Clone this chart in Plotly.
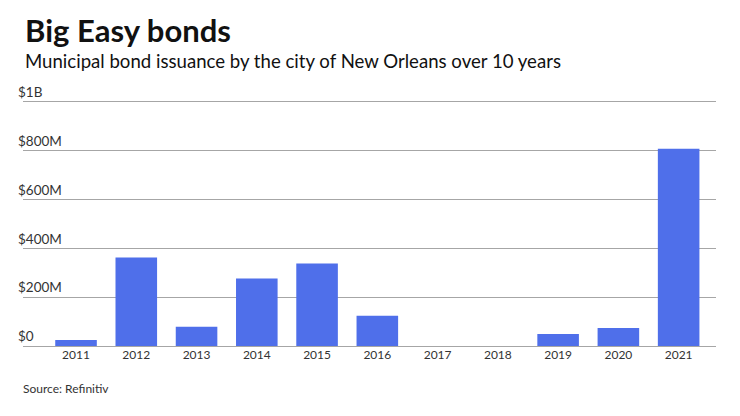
import plotly.graph_objects as go

# Municipal bond issuance, New Orleans (millions of dollars)
years = ["2011", "2012", "2013", "2014", "2015", "2016",
         "2017", "2018", "2019", "2020", "2021"]
issuance_m = [25, 362, 79, 276, 337, 124, 0, 0, 49, 74, 807]

tick_vals = [0, 200e6, 400e6, 600e6, 800e6, 1e9]
tick_text = ["$0", "$200M", "$400M", "$600M", "$800M", "$1B"]

title = "Big Easy bonds"
subtitle = "Municipal bond issuance by the city of New Orleans over 10 years"
source = "Source: Refinitiv"

# the page body adds an 8px margin, so the figure is 8px smaller each way
W, H = 732, 408
base = 338              # pixel row of $0
y_top = 1.08e9          # a bit past $1B so the top label has room
plot_h = 244 * y_top / 1e9

fig = go.Figure()
fig.add_trace(go.Bar(
    x=years,
    y=[v * 1e6 for v in issuance_m],
    marker=dict(color="#4f6fea", line=dict(width=0)),
    hoverinfo="x+y",
))

fig.update_layout(
    width=W, height=H,
    margin=dict(l=15, r=24, t=base - plot_h, b=H - base, autoexpand=False),
    paper_bgcolor="white", plot_bgcolor="white",
    font=dict(family="Lato", color="#333333"),
    bargap=0.31,
    showlegend=False,
)

fig.update_xaxes(
    type="category",
    range=[-0.88, 10.62],
    automargin=False,
    showgrid=False,
    showline=False,
    ticks="",
    tickfont=dict(size=12, color="#333333"),
)

fig.update_yaxes(
    range=[0, y_top],
    automargin=False,
    tickvals=tick_vals,
    ticktext=tick_text,
    ticklabelposition="inside top",
    ticklabelstandoff=-8,
    tickfont=dict(size=13.5, color="#333333"),
    showgrid=True,
    gridcolor="#a6a6a6",
    gridwidth=1,
    zeroline=True,
    zerolinecolor="#a6a6a6",
    zerolinewidth=1,
    showline=False,
)


def py(px):
    # reference pixel row -> paper y
    return (base - (px - 8)) / plot_h


fig.add_annotation(text="<b>" + title + "</b>", xref="paper", yref="paper",
                   x=0.0, y=py(31), xanchor="left", yanchor="middle",
                   showarrow=False, font=dict(size=31, color="#111111"))
fig.add_annotation(text=subtitle, xref="paper", yref="paper",
                   x=0.0, y=py(62), xanchor="left", yanchor="middle",
                   showarrow=False, font=dict(size=18.6, color="#111111"))
fig.add_annotation(text=source, xref="paper", yref="paper",
                   x=-0.003, y=py(388), xanchor="left", yanchor="middle",
                   showarrow=False, font=dict(size=12, color="#333333"))

fig.write_html("out.html")
